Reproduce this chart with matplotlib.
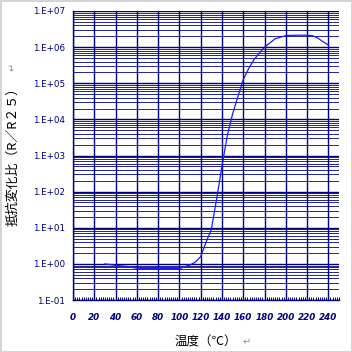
import matplotlib
matplotlib.use("Agg")
import matplotlib.pyplot as plt
import numpy as np
from matplotlib.ticker import FixedLocator, LogLocator, MultipleLocator, NullFormatter

# resistance change ratio R/R25 vs temperature
temps = [30, 40, 50, 60, 70, 80, 90, 100, 105, 110, 115, 120, 125, 130, 135,
         140, 145, 150, 155, 160, 165, 170, 175, 180, 190, 200, 210, 220,
         225, 230, 235, 240]
log_ratio = [0.0, -0.04, -0.07, -0.12, -0.13, -0.13, -0.13, -0.13, -0.08, -0.03,
             0.05, 0.2, 0.6, 0.95, 1.8, 2.7, 3.55, 4.15, 4.63, 5.1, 5.4, 5.65,
             5.83, 6.0, 6.23, 6.32, 6.33, 6.33, 6.32, 6.25, 6.15, 6.06]
ratio = [10 ** v for v in log_ratio]

x_ticks = list(range(0, 241, 20))
y_decades = [-1, 0, 1, 2, 3, 4, 5, 6, 7]
y_labels = ["1.E-01", "1.E+00", "1.E+01", "1.E+02", "1.E+03",
            "1.E+04", "1.E+05", "1.E+06", "1.E+07"]

navy = "#00007f"
fams = ["Noto Sans CJK JP", "DejaVu Sans"]

fig = plt.figure(figsize=(3.52, 3.52), dpi=100)
fig.patch.set_edgecolor("#d4d4d4")
fig.patch.set_linewidth(2)
ax = fig.add_axes([73 / 352, 52 / 352, 266 / 352, 289 / 352])

ax.plot(temps, ratio, color="#1a1aff", lw=0.9, zorder=5)

ax.set_yscale("log")
ax.set_xlim(0, 250)
ax.set_ylim(1e-1, 1e7)

ax.xaxis.set_major_locator(FixedLocator(x_ticks))
ax.xaxis.set_minor_locator(MultipleLocator(2))
ax.yaxis.set_major_locator(FixedLocator([10.0 ** d for d in y_decades]))
ax.yaxis.set_minor_locator(LogLocator(base=10, subs=np.arange(2, 10), numticks=20))
ax.yaxis.set_minor_formatter(NullFormatter())
ax.set_yticklabels(y_labels)
ax.set_xticklabels([str(t) for t in x_ticks])

ax.grid(True, which="major", axis="both", color=navy, lw=1.0)
ax.grid(True, which="minor", axis="y", color=navy, lw=0.6)

for s in ("top", "right"):
    ax.spines[s].set_visible(False)
for s in ("left", "bottom"):
    ax.spines[s].set_color(navy)
    ax.spines[s].set_linewidth(1.0)

ax.tick_params(axis="y", which="both", length=0, labelsize=6.3, labelcolor=navy, pad=6)
ax.tick_params(axis="x", which="major", length=0, labelsize=6.3, labelcolor=navy, pad=9)
ax.tick_params(axis="x", which="minor", direction="in", length=2, color=navy, width=0.7)
for lab in ax.get_xticklabels():
    lab.set_fontweight("bold")
    lab.set_fontstyle("italic")

fig.text(0.585, 0.028, "温度（℃）", ha="center", va="center", fontsize=9, family=fams)
fig.text(0.70, 0.028, "↵", ha="center", va="center", fontsize=7, color="#909090", family=fams)
fig.text(0.036, 0.565, "抵抗変化比（R／R２５）", ha="center", va="center", rotation=90,
         fontsize=9.3, family=fams)
fig.text(0.036, 0.81, "↵", ha="center", va="center", rotation=90, fontsize=7,
         color="#909090", family=fams)

fig.savefig("out.png", dpi=100)
